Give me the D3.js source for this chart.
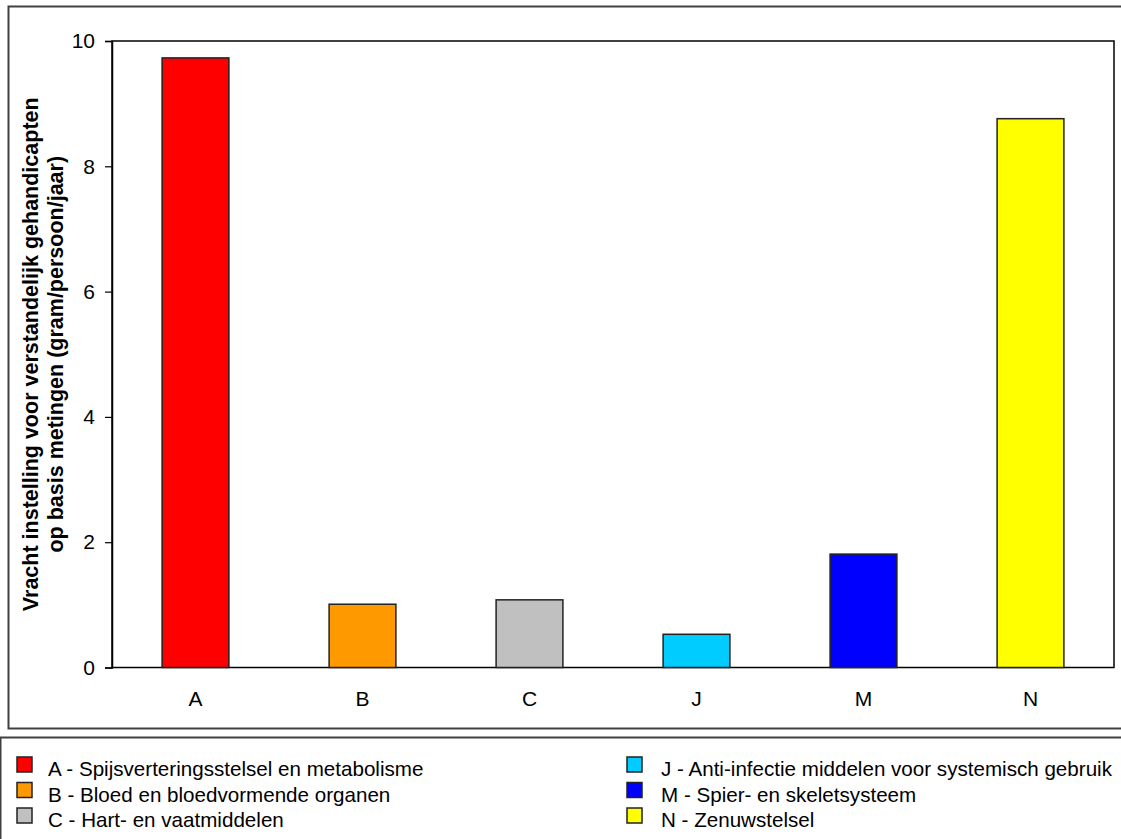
<!DOCTYPE html>
<html>
<head>
<meta charset="utf-8">
<script src="https://cdn.jsdelivr.net/npm/d3@7"></script>
<style>
  html, body { margin: 0; padding: 0; background: #fff; }
  svg { display: block; font-family: "Liberation Sans", Arial, sans-serif; }
</style>
</head>
<body>
<script>
// Vracht per ATC-hoofdgroep (gram/persoon/jaar)
const categories = ["A", "B", "C", "J", "M", "N"];
const values = [9.73, 1.01, 1.08, 0.53, 1.81, 8.76];
const colors = ["#ff0000", "#ff9900", "#c0c0c0", "#00ccff", "#0000ff", "#ffff00"];
const legendLabels = [
  "A - Spijsverteringsstelsel en metabolisme",
  "B - Bloed en bloedvormende organen",
  "C - Hart- en vaatmiddelen",
  "J - Anti-infectie middelen voor systemisch gebruik",
  "M - Spier- en skeletsysteem",
  "N - Zenuwstelsel"
];
const yTicks = [0, 2, 4, 6, 8, 10];
const yTitle = [
  "Vracht instelling voor verstandelijk gehandicapten",
  "op basis metingen (gram/persoon/jaar)"
];

const W = 1121, H = 839;
const FS = 21;
const svg = d3.select("body").append("svg").attr("width", W).attr("height", H);

// chart frame and legend frame
svg.append("rect").attr("x", 8.5).attr("y", 6.5).attr("width", W + 10).attr("height", 722)
  .attr("fill", "#fff").attr("stroke", "#404040").attr("stroke-width", 2);
svg.append("rect").attr("x", 0.5).attr("y", 737.5).attr("width", W + 10).attr("height", 120)
  .attr("fill", "#fff").attr("stroke", "#404040").attr("stroke-width", 2);

const plot = { left: 112, top: 41, right: 1114, bottom: 667.5 };

const x = d3.scaleBand().domain(categories).range([plot.left, plot.right]).paddingInner(0.6).paddingOuter(0.3);
const y = d3.scaleLinear().domain([0, 10]).range([plot.bottom, plot.top]);

// plot area border
svg.append("rect").attr("x", plot.left).attr("y", plot.top)
  .attr("width", plot.right - plot.left).attr("height", plot.bottom - plot.top)
  .attr("fill", "#fff").attr("stroke", "#000").attr("stroke-width", 1.5);

// bars
svg.append("g").selectAll("rect").data(categories).join("rect")
  .attr("x", d => x(d))
  .attr("width", x.bandwidth())
  .attr("y", (d, i) => y(values[i]))
  .attr("height", (d, i) => y(0) - y(values[i]))
  .attr("fill", (d, i) => colors[i])
  .attr("stroke", "#222").attr("stroke-width", 1.5);

// y axis
const yAxis = svg.append("g").attr("transform", `translate(${plot.left},0)`)
  .call(d3.axisLeft(y).tickValues(yTicks).tickSize(7).tickPadding(10).tickFormat(d3.format("d")));
yAxis.select(".domain").attr("stroke", "#000").attr("stroke-width", 1.5);
yAxis.selectAll(".tick line").attr("stroke", "#000").attr("stroke-width", 1.2);
yAxis.selectAll(".tick text").attr("font-size", FS).attr("fill", "#000")
  .attr("font-family", "Liberation Sans, Arial, sans-serif");

// x axis labels
const xAxis = svg.append("g").attr("transform", `translate(0,${plot.bottom})`)
  .call(d3.axisBottom(x).tickSize(0).tickPadding(24));
xAxis.select(".domain").remove();
xAxis.selectAll(".tick text").attr("font-size", FS).attr("fill", "#000")
  .attr("font-family", "Liberation Sans, Arial, sans-serif");

// y axis title (two lines, rotated)
const cy = (plot.top + plot.bottom) / 2;
const title = svg.append("text")
  .attr("transform", `translate(38,${cy}) rotate(-90)`)
  .attr("text-anchor", "middle")
  .attr("font-size", 21.5).attr("font-weight", "bold").attr("fill", "#000");
title.selectAll("tspan").data(yTitle).join("tspan")
  .attr("x", 0).attr("dy", (d, i) => i === 0 ? 0 : 25).text(d => d);

// legend
const legendCols = [{ box: 17, text: 48 }, { box: 627, text: 661 }];
const legendRows = [776, 801.5, 827];
const lg = svg.append("g").selectAll("g").data(legendLabels).join("g")
  .attr("transform", (d, i) => `translate(0,${legendRows[i % 3]})`);
lg.append("rect")
  .attr("x", (d, i) => legendCols[Math.floor(i / 3)].box)
  .attr("y", -19).attr("width", 15).attr("height", 15)
  .attr("fill", (d, i) => colors[i]).attr("stroke", "#222").attr("stroke-width", 1.5);
lg.append("text")
  .attr("x", (d, i) => legendCols[Math.floor(i / 3)].text).attr("y", 0)
  .attr("font-size", 20.6).attr("fill", "#000").text(d => d);
</script>
</body>
</html>
